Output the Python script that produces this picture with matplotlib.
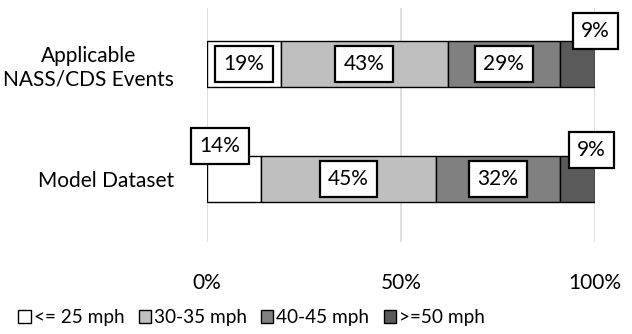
import numpy as np
import matplotlib.pyplot as plt
from matplotlib.patches import Patch

plt.rcParams['font.family'] = ['Lato', 'DejaVu Sans']

categories = ['Model Dataset', 'Applicable\nNASS/CDS Events']
series = ['<= 25 mph', '30-35 mph', '40-45 mph', '>=50 mph']
values = np.array([
    [14, 45, 32, 9],
    [19, 43, 29, 9],
])
colors = ['#ffffff', '#bfbfbf', '#808080', '#5a5a5a']
ticks = [0, 50, 100]
tick_labels = ['0%', '50%', '100%']

# labels pulled off the bar (pixel offsets), everything else sits centred
label_offsets = {(0, 0): (-14, 33), (0, 3): (14, 29), (1, 3): (18, 33)}

fs = 15

fig = plt.figure(figsize=(6.32, 3.34), dpi=100)
ax = fig.add_axes([207 / 632, 1 - 242 / 334, 388 / 632, 234 / 334])

y = np.arange(len(categories))
left = np.zeros(len(categories))
for j, name in enumerate(series):
    ax.barh(y, values[:, j], left=left, height=0.4, color=colors[j],
            edgecolor='black', linewidth=1.0, label=name, zorder=3)
    for i in range(len(categories)):
        cx = left[i] + values[i, j] / 2
        dx, dy = label_offsets.get((i, j), (0, 0))
        ax.annotate(f'{values[i, j]}%', xy=(cx, y[i]), xytext=(dx, dy),
                    textcoords='offset pixels', ha='center', va='center',
                    fontsize=fs, zorder=5,
                    bbox=dict(boxstyle='square,pad=0.4', fc='white',
                              ec='black', lw=1.6))
    left += values[:, j]

ax.set_xlim(0, 100)
ax.set_ylim(-0.548, 1.487)
ax.set_xticks(ticks)
ax.set_xticklabels(tick_labels, fontsize=fs)
ax.set_yticks(y)
ax.set_yticklabels(categories, fontsize=fs, multialignment='center')
ax.tick_params(axis='both', length=0)
ax.tick_params(axis='x', pad=22)
ax.tick_params(axis='y', pad=24)
ax.grid(axis='x', color='#d9d9d9', linewidth=1.2, zorder=0)
for s in ax.spines.values():
    s.set_visible(False)

handles = [Patch(facecolor=c, edgecolor='black', linewidth=1) for c in colors]
fig.legend(handles, series, loc='center', bbox_to_anchor=(0.398, 1 - 318 / 334),
           ncol=4, frameon=False, fontsize=13.7, handlelength=0.65,
           handleheight=0.65, handletextpad=0.15, columnspacing=0.75,
           borderaxespad=0, borderpad=0)

fig.savefig('out.png', dpi=100)
